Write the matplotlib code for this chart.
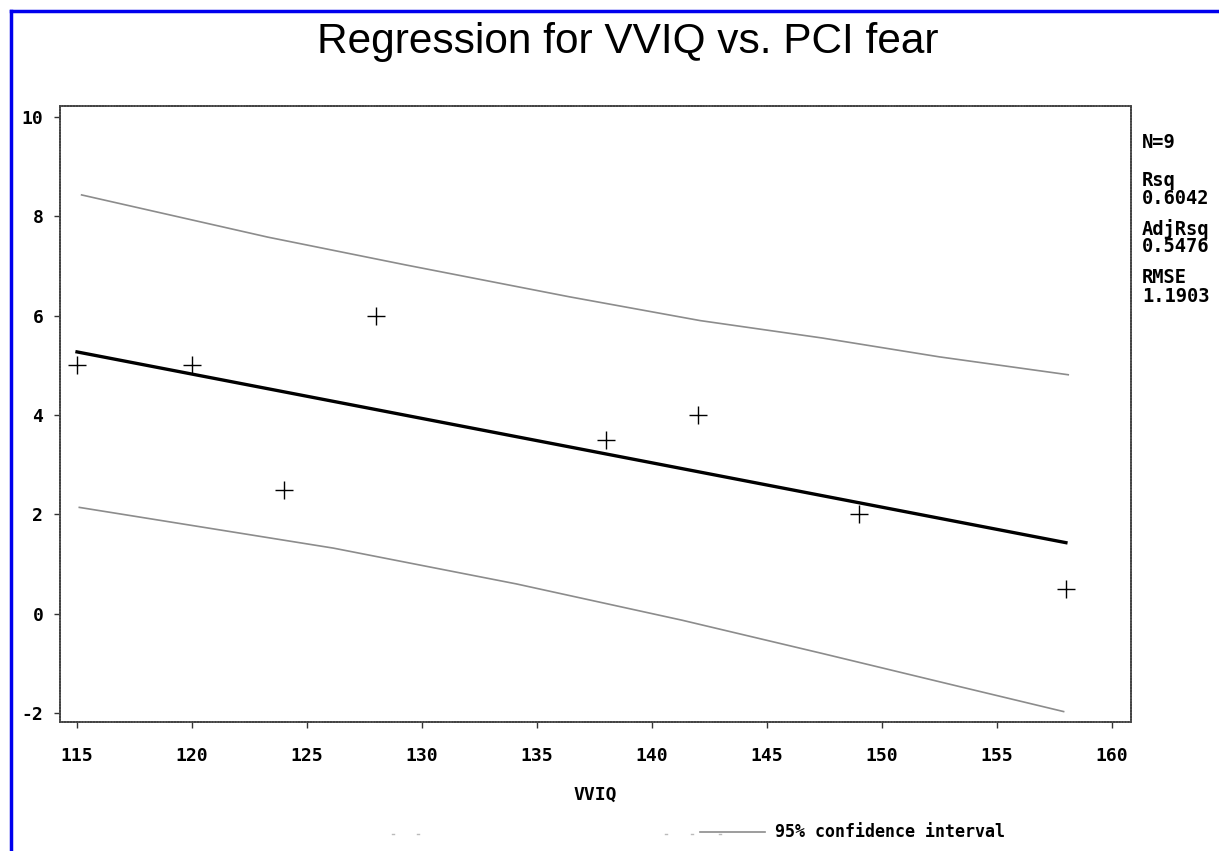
import numpy as np
import matplotlib
matplotlib.use('Agg')
import matplotlib.pyplot as plt
from matplotlib.lines import Line2D

# observed points (VVIQ, PCI fear)
vviq = [115, 120, 124, 128, 138, 142, 149, 158]
fear = [5.0, 5.0, 2.5, 6.0, 3.5, 4.0, 2.0, 0.5]

# fitted regression line (read at its ends)
fit_x = [115, 158]
fit_y = [5.27, 1.43]

# 95% interval curves
upper_x = [115.2, 123.3, 129.3, 136.4, 142.1, 147.4, 152.5, 158.1]
upper_y = [8.43, 7.58, 7.02, 6.38, 5.90, 5.55, 5.17, 4.81]
lower_x = [115.1, 126.15, 134.1, 141.3, 147.4, 153.4, 157.9]
lower_y = [2.14, 1.32, 0.60, -0.13, -0.80, -1.47, -1.97]

x_ticks = [115, 120, 125, 130, 135, 140, 145, 150, 155, 160]
y_ticks = [-2, 0, 2, 4, 6, 8, 10]

stats_text = ['N=9', 'Rsq', '0.6042', 'AdjRsq', '0.5476', 'RMSE', '1.1903']
stats_ypx = [143, 180, 198, 229, 247, 278, 297]  # pixel rows of the margin text

W, H = 1219, 851
fig = plt.figure(figsize=(W / 100, H / 100), dpi=100)
ax = fig.add_axes([60 / W, 1 - 722 / H, (1131 - 60) / W, (722 - 106) / H])

mono = 'DejaVu Sans Mono'
ci_col = '#8c8c8c'

ax.plot(upper_x, upper_y, color=ci_col, lw=1.2)
ax.plot(lower_x, lower_y, color=ci_col, lw=1.2)
ax.plot(fit_x, fit_y, color='black', lw=2.4)
ax.plot(vviq, fear, linestyle='none', marker='+', color='black', ms=13, mew=1.0)

ax.set_xlim(114.26, 160.83)
ax.set_ylim(-2.18, 10.22)
ax.set_xticks(x_ticks)
ax.set_yticks(y_ticks)
ax.set_xticklabels([str(t) for t in x_ticks], family=mono, fontweight='bold', fontsize=13)
ax.set_yticklabels([str(t) for t in y_ticks], family=mono, fontweight='bold', fontsize=13)
ax.tick_params(direction='out', length=4, width=1, color='#333333')
ax.tick_params(axis='x', pad=14)
ax.tick_params(axis='y', pad=8)
for sp in ax.spines.values():
    sp.set_color('#444444')
    sp.set_linewidth(1.3)
    sp.set_linestyle((0, (1, 0.6)))

ax.set_xlabel('VVIQ', family=mono, fontweight='bold', fontsize=13, labelpad=15)

fig.text(628 / W, 1 - 53 / H, 'Regression for VVIQ vs. PCI fear', ha='center', va='baseline',
         family='Liberation Sans', fontsize=30.5)

# fit statistics in the right margin
for s, ypx in zip(stats_text, stats_ypx):
    fig.text(1142 / W, 1 - ypx / H, s, ha='left', va='center',
             family=mono, fontweight='bold', fontsize=13.5)

# legend entry at the bottom
fig.add_artist(Line2D([700 / W, 765 / W], [1 - 832 / H, 1 - 832 / H], color=ci_col, lw=1.2))
fig.text(775 / W, 1 - 832 / H, '95% confidence interval', ha='left', va='center',
         family=mono, fontweight='bold', fontsize=12)
for px in [392, 417, 665, 691, 719]:
    fig.add_artist(Line2D([px / W, (px + 2) / W], [1 - 834 / H, 1 - 834 / H], color='#bbbbbb', lw=1))

# blue frame on top and left edges
fig.add_artist(Line2D([11 / W, 1], [1 - 11 / H, 1 - 11 / H], color='#0000ee', lw=2.5))
fig.add_artist(Line2D([11 / W, 11 / W], [0, 1 - 11 / H], color='#0000ee', lw=2.5))

fig.savefig('out.png', dpi=100)
